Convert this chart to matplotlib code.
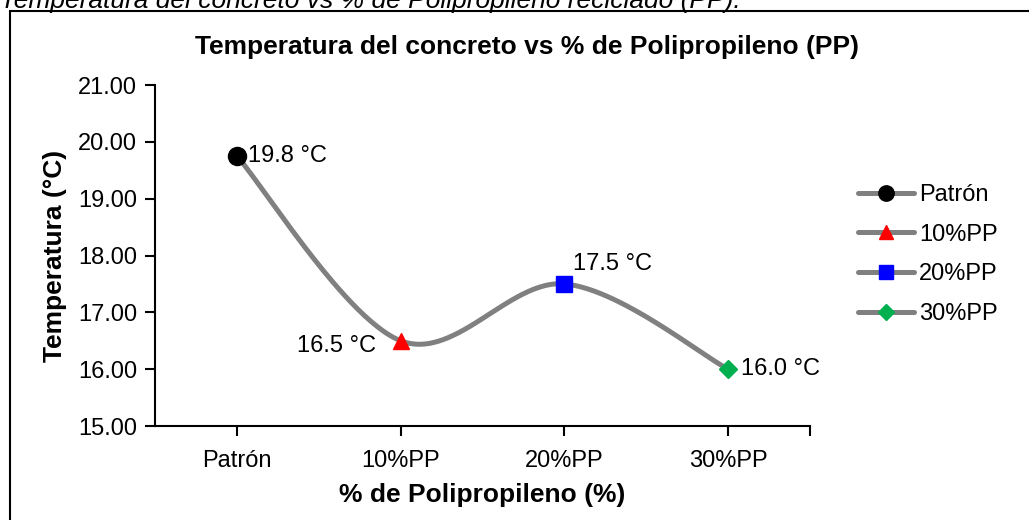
import numpy as np
import matplotlib
matplotlib.use("Agg")
import matplotlib.pyplot as plt
from matplotlib.lines import Line2D
from matplotlib.patches import Rectangle

plt.rcParams['font.family'] = ['Liberation Sans', 'DejaVu Sans']

categories = ["Patrón", "10%PP", "20%PP", "30%PP"]
temps = [19.75, 16.5, 17.5, 16.0]
labels = ["19.8 °C", "16.5 °C", "17.5 °C", "16.0 °C"]
markers = ["o", "^", "s", "D"]
colors = ["#000000", "#FF0000", "#0000FF", "#00B050"]
msizes = [13, 12, 12, 9]
yticks = [15, 16, 17, 18, 19, 20, 21]

fig = plt.figure(figsize=(10.29, 5.2), dpi=100)
ax = fig.add_axes([155/1029, 1-426/520, (810-155)/1029, (426-85)/520])

# smoothed line (Catmull-Rom, as in Excel smoothed lines)
x = np.arange(len(temps), dtype=float)
y = np.array(temps, dtype=float)
px = np.concatenate([[x[0]], x, [x[-1]]])
py = np.concatenate([[y[0]], y, [y[-1]]])
sx, sy = [], []
t = np.linspace(0, 1, 60)
for i in range(1, len(px) - 2):
    p0, p1, p2, p3 = [np.array([px[j], py[j]]) for j in (i-1, i, i+1, i+2)]
    c1 = p1 + (p2 - p0) / 6
    c2 = p2 - (p3 - p1) / 6
    b = ((1-t)**3)[:, None]*p1 + (3*(1-t)**2*t)[:, None]*c1 + (3*(1-t)*t**2)[:, None]*c2 + (t**3)[:, None]*p2
    sx.extend(b[:, 0]); sy.extend(b[:, 1])
ax.plot(sx, sy, color="#808080", lw=3.6, solid_capstyle='round', zorder=2)

for i in range(len(temps)):
    ax.plot(x[i], y[i], marker=markers[i], color=colors[i], ms=msizes[i], ls='none', zorder=3)

offsets = [(8, 0, 'left', 'center'), (-18, -4, 'right', 'center'), (6, 14, 'left', 'center'), (9, 0, 'left', 'center')]
for i, (dx, dy, ha, va) in enumerate(offsets):
    ax.annotate(labels[i], (x[i], y[i]), xytext=(dx, dy), textcoords='offset points',
                ha=ha, va=va, fontsize=17)

ax.set_xlim(-0.5, 3.5)
ax.set_ylim(15, 21)
ax.set_yticks(yticks)
ax.set_yticklabels([f"{v:.2f}" for v in yticks])
ax.set_xticks(list(x) + [3.5])
ax.set_xticklabels(categories + [""])
ax.tick_params(axis='both', labelsize=17, length=7, width=1.5, direction='out', pad=6)
ax.tick_params(axis='x', pad=10)
for s in ['top', 'right']:
    ax.spines[s].set_visible(False)
for s in ['left', 'bottom']:
    ax.spines[s].set_linewidth(1.5)

ax.set_ylabel("Temperatura (°C)", fontsize=19, fontweight='bold', labelpad=8)
ax.set_xlabel("% de Polipropileno (%)", fontsize=19, fontweight='bold', labelpad=8)
fig.text(527/1029, 1-47/520, "Temperatura del concreto vs % de Polipropileno (PP)",
         fontsize=19, fontweight='bold', ha='center', va='center')

fig.text(0.0, 1-8/520, "Temperatura del concreto vs % de Polipropileno reciclado (PP).",
         fontsize=19, style='italic', ha='left', va='baseline')

fig.patches.append(Rectangle((10/1029, -0.05), 1.05, 1-11/520+0.05, transform=fig.transFigure,
                             fill=False, edgecolor='black', lw=1.5))

handles = [Line2D([0], [0], color="#808080", lw=3.6, solid_capstyle='round', marker=markers[i],
                  markerfacecolor=colors[i], markeredgecolor=colors[i], ms=msizes[i]*0.85)
           for i in range(len(temps))]
fig.legend(handles, categories, loc='upper left', bbox_to_anchor=(846/1029, 1-172/520),
           frameon=False, fontsize=17, handlelength=2.4, handletextpad=0.2, labelspacing=0.75,
           borderpad=0)

fig.savefig("out.png", dpi=100)
